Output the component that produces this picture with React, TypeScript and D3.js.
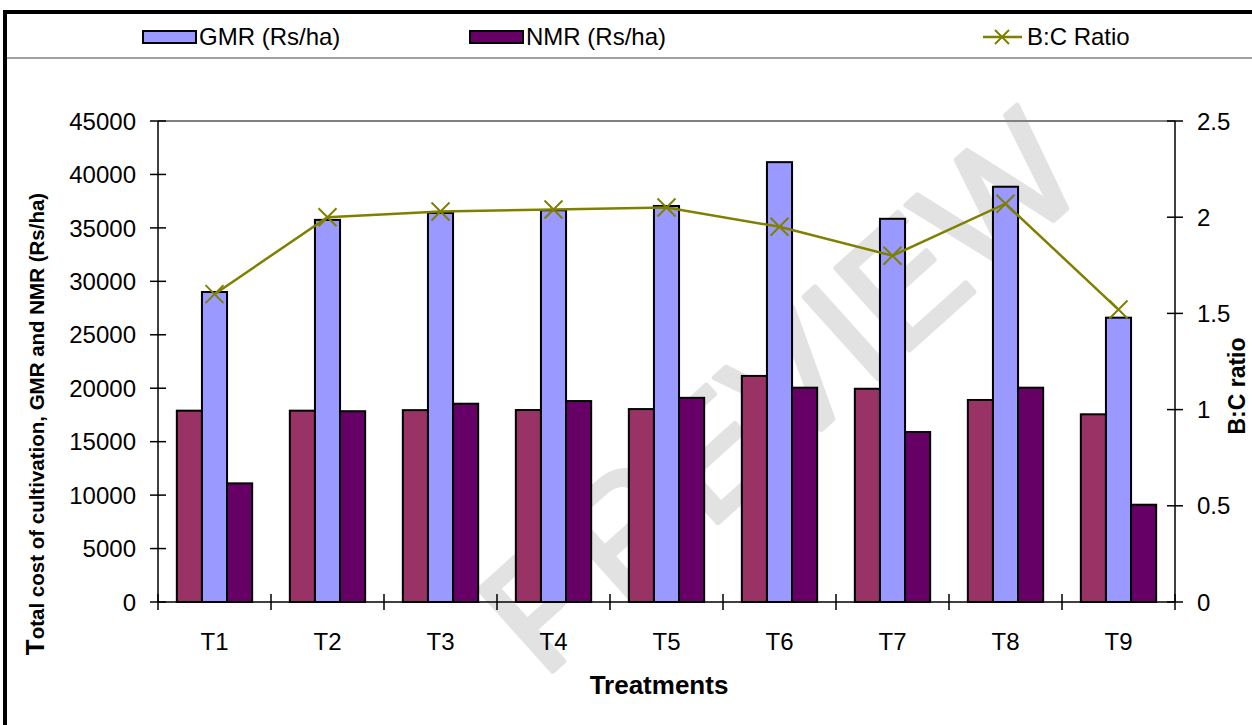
import React from "react";
import * as d3 from "d3";

const categories = ["T1", "T2", "T3", "T4", "T5", "T6", "T7", "T8", "T9"];
const costValues = [17900, 17900, 17950, 17960, 18050, 21150, 19950, 18900, 17560];
const gmrValues = [29000, 35750, 36400, 36650, 37050, 41150, 35850, 38850, 26600];
const nmrValues = [11100, 17850, 18550, 18800, 19100, 20050, 15900, 20050, 9100];
const bcRatio = [1.6, 2.0, 2.03, 2.04, 2.05, 1.95, 1.8, 2.07, 1.52];
const leftTicks = [0, 5000, 10000, 15000, 20000, 25000, 30000, 35000, 40000, 45000];
const rightTicks = [0, 0.5, 1, 1.5, 2, 2.5];

const seriesKeys = ["cost", "gmr", "nmr"];
const seriesColors: Record<string, string> = { cost: "#993366", gmr: "#9999FF", nmr: "#660066" };

const W = 1252;
const H = 725;
const PL = 158;
const PR = 1175;
const PT = 121;
const PB = 602;
const FONT = "'Liberation Sans', Arial, sans-serif";

export default function App() {
  const x = d3.scaleBand<string>().domain(categories).range([PL, PR]);
  const bw = x.bandwidth();
  const x1 = d3.scaleBand<string>().domain(seriesKeys).range([bw / 6, (bw * 5) / 6]);
  const yL = d3.scaleLinear().domain([0, 45000]).range([PB, PT]);
  const yR = d3.scaleLinear().domain([0, 2.5]).range([PB, PT]);

  const rows = categories.map((c, i) => ({
    c,
    cost: costValues[i],
    gmr: gmrValues[i],
    nmr: nmrValues[i],
    bc: bcRatio[i],
  }));

  const line = d3
    .line<{ c: string; bc: number }>()
    .x((d) => (x(d.c) as number) + bw / 2)
    .y((d) => yR(d.bc));

  const boundaries = categories.map((c) => x(c) as number).concat([PR]);
  const m = 9;

  return (
    <svg
      width={W}
      height={H}
      style={{ position: "absolute", left: 0, top: 0, background: "#fff" }}
      fontFamily={FONT}
    >
      <rect x={0} y={0} width={W} height={H} fill="#fff" />
      {/* watermark */}
      <text
        x={780}
        y={392}
        textAnchor="middle"
        dominantBaseline="central"
        fontSize={160}
        fill="#e2e2e2"
        stroke="#e2e2e2"
        strokeWidth={5}
        strokeLinejoin="round"
        transform="rotate(-42 780 392)"
        fontFamily={FONT}
      >
        PREVIEW
      </text>

      {/* frame */}
      <line x1={5} y1={12} x2={W} y2={12} stroke="#000" strokeWidth={4} />
      <line x1={5} y1={10} x2={5} y2={H} stroke="#000" strokeWidth={4} />
      <line x1={7} y1={58} x2={W} y2={58} stroke="#808080" strokeWidth={1.5} />

      {/* legend */}
      <rect x={143} y={31} width={53} height={12} fill={seriesColors.gmr} stroke="#000" strokeWidth={2} />
      <text x={199} y={45} fontSize={24}>GMR (Rs/ha)</text>
      <rect x={470} y={31} width={53} height={12} fill={seriesColors.nmr} stroke="#000" strokeWidth={2} />
      <text x={526} y={45} fontSize={24}>NMR (Rs/ha)</text>
      <line x1={983} y1={37} x2={1022} y2={37} stroke="#808000" strokeWidth={2.5} />
      <path d={`M${1002 - 7},${37 - 7}L${1002 + 7},${37 + 7}M${1002 - 7},${37 + 7}L${1002 + 7},${37 - 7}`} stroke="#808000" strokeWidth={2} />
      <text x={1027} y={45} fontSize={24}>B:C Ratio</text>

      {/* top border of plot */}
      <line x1={PL} y1={PT} x2={PR} y2={PT} stroke="#808080" strokeWidth={2} />

      {/* bars */}
      {rows.map((r) =>
        seriesKeys.map((k) => {
          const v = (r as any)[k] as number;
          const bx = (x(r.c) as number) + (x1(k) as number);
          return (
            <rect
              key={r.c + k}
              x={bx}
              y={yL(v)}
              width={x1.bandwidth()}
              height={PB - yL(v)}
              fill={seriesColors[k]}
              stroke="#000"
              strokeWidth={2}
            />
          );
        })
      )}

      {/* axes */}
      <line x1={PL} y1={PT} x2={PL} y2={PB} stroke="#000" strokeWidth={1.5} />
      <line x1={PR} y1={PT} x2={PR} y2={PB} stroke="#000" strokeWidth={1.5} />
      <line x1={PL} y1={PB} x2={PR} y2={PB} stroke="#000" strokeWidth={1.5} />
      {leftTicks.map((t) => (
        <g key={"l" + t}>
          <line x1={PL - 8} x2={PL + 8} y1={yL(t)} y2={yL(t)} stroke="#000" strokeWidth={1.5} />
          <text x={136} y={yL(t)} dy="0.36em" textAnchor="end" fontSize={24}>
            {t}
          </text>
        </g>
      ))}
      {rightTicks.map((t) => (
        <g key={"r" + t}>
          <line x1={PR - 8} x2={PR + 8} y1={yR(t)} y2={yR(t)} stroke="#000" strokeWidth={1.5} />
          <text x={1197} y={yR(t)} dy="0.36em" textAnchor="start" fontSize={24}>
            {t}
          </text>
        </g>
      ))}
      {boundaries.map((b, i) => (
        <line key={"b" + i} x1={b} x2={b} y1={PB - 8} y2={PB + 8} stroke="#000" strokeWidth={1.5} />
      ))}
      {categories.map((c) => (
        <text key={"c" + c} x={(x(c) as number) + bw / 2} y={650} textAnchor="middle" fontSize={24}>
          {c}
        </text>
      ))}

      {/* line series */}
      <path d={line(rows) || ""} fill="none" stroke="#808000" strokeWidth={2.5} />
      {rows.map((r) => {
        const cx = (x(r.c) as number) + bw / 2;
        const cy = yR(r.bc);
        return (
          <path
            key={"m" + r.c}
            d={`M${cx - m},${cy - m}L${cx + m},${cy + m}M${cx - m},${cy + m}L${cx + m},${cy - m}`}
            stroke="#808000"
            strokeWidth={2}
          />
        );
      })}

      {/* titles */}
      <text x={659} y={694} textAnchor="middle" fontSize={26} fontWeight="bold">
        Treatments
      </text>
      <text
        transform="translate(44,424) rotate(-90)"
        textAnchor="middle"
        fontSize={20.5}
        fontWeight="bold"
      >
        <tspan fontSize={26}>T</tspan>otal cost of cultivation, GMR and NMR (Rs/ha)
      </text>
      <text transform="translate(1245,386) rotate(-90)" textAnchor="middle" fontSize={23} fontWeight="bold">
        B:C ratio
      </text>
    </svg>
  );
}
